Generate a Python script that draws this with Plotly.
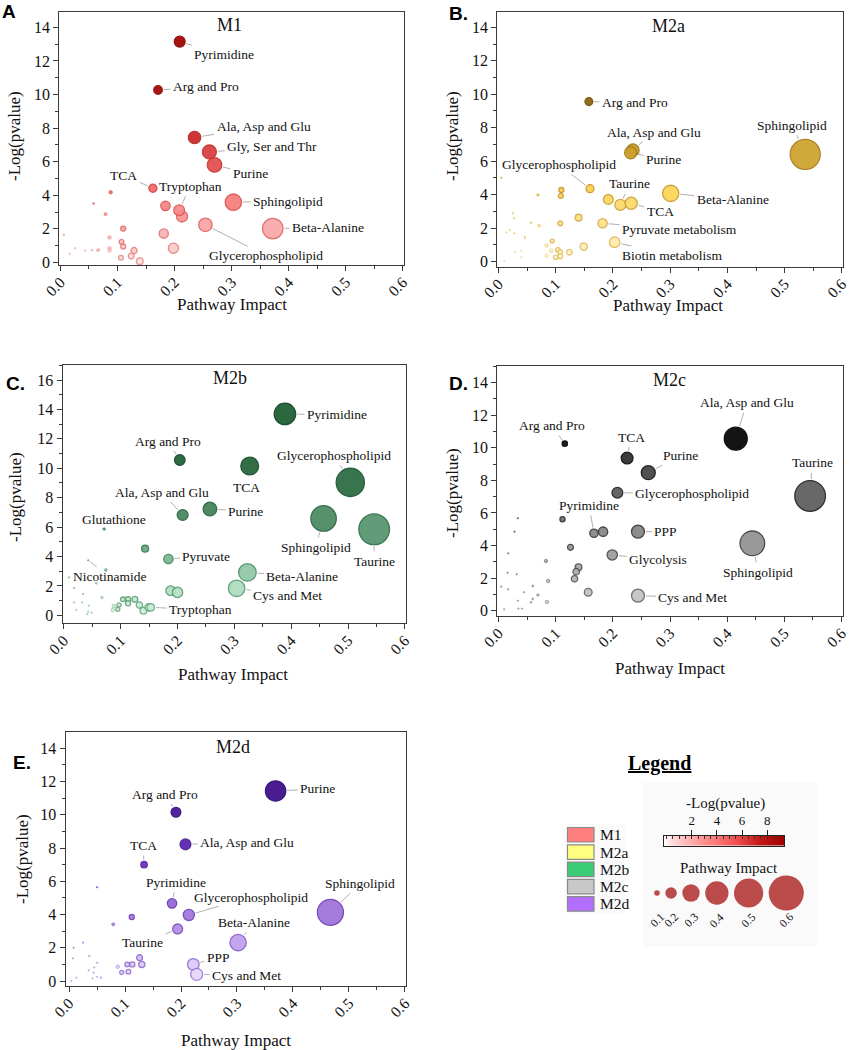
import numpy as np
import plotly.graph_objects as go

W, H = 856, 1050
SERIF = "Liberation Serif"
SANS = "Liberation Sans"
FRAME = "#3a3a3a"
TXT = "#111111"

# ---------------------------- data ----------------------------
# Panel A  (M1)
m1_impact = [0.213, 0.184, 0.181, 0.198, 0.088, 0.058, 0.079, 0.110, 0.086, 0.107, 0.110, 0.086,
             0.086, 0.129, 0.124, 0.106, 0.139, 0.067, 0.065, 0.055, 0.043, 0.026, 0.016, 0.006,
             0.209, 0.171, 0.235, 0.261, 0.270, 0.162, 0.303, 0.372, 0.254, 0.208]
m1_logp = [2.74, 3.37, 1.73, 0.85, 4.18, 3.51, 2.88, 2.02, 1.49, 1.23, 0.95, 0.85,
           0.71, 0.71, 0.38, 0.28, 0.08, 0.75, 0.73, 0.73, 0.71, 0.85, 0.52, 1.65,
           13.15, 10.27, 7.44, 6.58, 5.81, 4.42, 3.59, 2.02, 2.24, 3.11]
m1_names = [""] * 24 + ["Pyrimidine", "Arg and Pro", "Ala, Asp and Glu", "Gly, Ser and Thr", "Purine",
                        "TCA", "Sphingolipid", "Beta-Alanine", "Glycerophospholipid", "Tryptophan"]

# Panel B  (M2a)
m2a_impact = [0.192, 0.140, 0.149, 0.110, 0.109, 0.108, 0.069, 0.071, 0.057, 0.124, 0.094, 0.084,
              0.084, 0.092, 0.104, 0.108, 0.100, 0.108, 0.046, 0.046, 0.040, 0.040, 0.028, 0.025,
              0.027, 0.020, 0.029, 0.014, 0.005, 0.010,
              0.158, 0.235, 0.231, 0.536, 0.160, 0.213, 0.232, 0.301, 0.182, 0.203]
m2a_logp = [3.72, 2.63, 0.90, 4.28, 3.93, 2.29, 3.98, 2.15, 2.33, 0.56, 1.23, 0.96,
            0.36, 0.66, 0.70, 0.56, 0.26, 0.32, 1.49, 1.39, 0.66, 0.26, 1.69, 2.89,
            2.59, 1.89, 0.56, 1.75, 5.02, 0.03,
            9.56, 6.67, 6.51, 6.41, 4.36, 3.39, 3.49, 4.08, 2.29, 1.16]
m2a_names = [""] * 30 + ["Arg and Pro", "Ala, Asp and Glu", "Purine", "Sphingolipid", "Glycerophospholipid",
                         "Taurine", "TCA", "Beta-Alanine", "Pyruvate metabolism", "Biotin metabolism"]

# Panel C  (M2b)
m2b_impact = [0.143, 0.074, 0.188, 0.200, 0.057, 0.067, 0.018, 0.034, 0.032, 0.018, 0.022, 0.044,
              0.043, 0.049, 0.041, 0.009, 0.088, 0.086, 0.095, 0.097, 0.104, 0.113, 0.113, 0.125,
              0.133, 0.140, 0.149,
              0.389, 0.204, 0.327, 0.504, 0.209, 0.257, 0.457, 0.546, 0.071, 0.184, 0.043, 0.323,
              0.304, 0.153]
m2b_logp = [4.53, 3.08, 1.68, 1.56, 2.18, 1.22, 1.86, 1.45, 0.88, 0.88, 0.36, 0.66,
            0.25, 0.18, 0.09, 2.58, 0.63, 0.36, 0.41, 0.70, 1.09, 1.09, 0.82, 1.09,
            0.70, 0.32, 0.54,
            13.69, 10.56, 10.15, 9.04, 6.82, 7.23, 6.59, 5.85, 5.87, 3.83, 3.74, 2.92,
            1.84, 0.54]
m2b_names = [""] * 27 + ["Pyrimidine", "Arg and Pro", "TCA", "Glycerophospholipid", "Ala, Asp and Glu",
                         "Purine", "Sphingolipid", "Taurine", "Glutathione", "Pyruvate", "Nicotinamide",
                         "Beta-Alanine", "Cys and Met", "Tryptophan"]

# Panel D  (M2c)
m2c_impact = [0.112, 0.183, 0.126, 0.140, 0.136, 0.133, 0.157, 0.083, 0.087, 0.060, 0.069, 0.060,
              0.057, 0.085, 0.045, 0.035, 0.041, 0.034, 0.034, 0.028, 0.017, 0.032, 0.016, 0.017,
              0.010, 0.005,
              0.415, 0.116, 0.225, 0.262, 0.208, 0.545, 0.167, 0.244, 0.444, 0.199, 0.244]
m2c_logp = [5.61, 4.85, 3.89, 2.66, 2.39, 1.96, 1.13, 3.05, 1.82, 1.51, 0.96, 0.72,
            0.51, 0.53, 1.13, 0.12, 0.12, 0.61, 5.67, 4.85, 3.52, 2.23, 2.33, 1.31,
            0.08, 1.47,
            10.56, 10.25, 9.37, 8.47, 7.24, 7.04, 4.75, 4.85, 4.13, 3.42, 0.92]
m2c_names = [""] * 26 + ["Ala, Asp and Glu", "Arg and Pro", "TCA", "Purine", "Glycerophospholipid",
                         "Taurine", "Pyrimidine", "PPP", "Sphingolipid", "Glycolysis", "Cys and Met"]

# Panel E  (M2d)
m2d_impact = [0.112, 0.079, 0.050, 0.126, 0.130, 0.113, 0.104, 0.106, 0.094, 0.087, 0.050, 0.036,
              0.045, 0.044, 0.035, 0.050, 0.057, 0.042, 0.025, 0.008, 0.007, 0.013, 0.004,
              0.369, 0.191, 0.208, 0.134, 0.184, 0.214, 0.467, 0.194, 0.302, 0.222, 0.228]
m2d_logp = [3.85, 3.41, 5.64, 1.40, 1.00, 1.00, 1.00, 0.56, 0.52, 0.86, 1.10, 1.50,
            0.82, 0.50, 0.64, 0.26, 0.20, 0.16, 2.31, 2.00, 1.36, 0.20, 0.00,
            11.43, 10.15, 8.22, 7.00, 4.67, 3.97, 4.13, 3.13, 2.31, 1.00, 0.40]
m2d_names = [""] * 23 + ["Purine", "Arg and Pro", "Ala, Asp and Glu", "TCA", "Pyrimidine",
                         "Glycerophospholipid", "Sphingolipid", "Taurine", "Beta-Alanine", "PPP", "Cys and Met"]

groups = ["M1", "M2a", "M2b", "M2c", "M2d"]
group_colors = ["#FF7F7F", "#FFFF80", "#3CCB76", "#C8C8C8", "#B46EFF"]
legend_pvalue_ticks = [2, 4, 6, 8]
legend_impacts = [0.1, 0.2, 0.3, 0.4, 0.5, 0.6]

# ---------------------------- label offsets (pixels) ----------------------------
off_m1 = {"Pyrimidine": (44, 13), "Arg and Pro": (48, -3), "Ala, Asp and Glu": (69, -11),
          "Gly, Ser and Thr": (63, -5), "Purine": (36, 9), "TCA": (-29, -13), "Tryptophan": (11, -24),
          "Sphingolipid": (55, -1), "Beta-Alanine": (55, -1), "Glycerophospholipid": (61, 31)}
off_m2a = {"Arg and Pro": (46, 1), "Ala, Asp and Glu": (21, -18), "Purine": (33, 7),
           "Sphingolipid": (-13, -29), "Glycerophospholipid": (-31, -24), "Taurine": (9, -21),
           "TCA": (29, 8), "Beta-Alanine": (62, 6), "Pyruvate metabolism": (77, 6),
           "Biotin metabolism": (58, 13)}
off_m2b = {"Pyrimidine": (52, 1), "Arg and Pro": (-12, -19), "TCA": (-3, 21), "Glycerophospholipid": (-16, -27),
           "Ala, Asp and Glu": (-21, -23), "Purine": (36, 2), "Sphingolipid": (-8, 29), "Taurine": (0, 32),
           "Glutathione": (10, -10), "Pyruvate": (38, -3), "Nicotinamide": (21, 16), "Beta-Alanine": (55, 4),
           "Cys and Met": (51, 7), "Tryptophan": (50, 2)}
off_m2c = {"Ala, Asp and Glu": (11, -36), "Arg and Pro": (-13, -18), "TCA": (4, -21), "Purine": (32, -17),
           "Glycerophospholipid": (75, 1), "Taurine": (2, -33), "Pyrimidine": (-5, -28), "PPP": (28, 0),
           "Sphingolipid": (6, 29), "Glycolysis": (46, 5), "Cys and Met": (55, 2)}
off_m2d = {"Purine": (42, -2), "Arg and Pro": (-11, -18), "Ala, Asp and Glu": (62, -2), "TCA": (-1, -19),
           "Pyrimidine": (4, -21), "Glycerophospholipid": (62, -18), "Sphingolipid": (30, -29),
           "Taurine": (-35, 14), "Beta-Alanine": (16, -20), "PPP": (25, -7), "Cys and Met": (50, 1)}

# ---------------------------- styles ----------------------------
def fx(p):
    return p / W


def fy(p):
    return 1 - p / H


def bubble_size(imp):
    return np.maximum(59 * np.asarray(imp, dtype=float) - 1.5, 1.5)


def paper_text(xp, yp, text, size, family=SERIF, angle=0, xanchor="center", color=TXT):
    return dict(x=fx(xp), y=fy(yp), xref="paper", yref="paper", text=text, showarrow=False,
                xanchor=xanchor, yanchor="middle", textangle=angle,
                font=dict(family=family, size=size, color=color))


PANELS = [
    dict(title="M1", imp=m1_impact, lp=m1_logp, names=m1_names, off=off_m1, cmax=11,
         cs=[[0, "#FCE2E2"], [0.15, "#FAB4B4"], [0.35, "#F57474"], [0.55, "#E04848"], [0.72, "#C41C1C"],
             [0.88, "#A80404"], [1, "#A00000"]],
         lcs=[[0, "#E89090"], [0.4, "#D84040"], [1, "#8A0000"]],
         frame=(59.3, 404, 11.7, 265), yr=(-0.15, 14.93), xr=(-0.002, 0.602),
         letter_xy=(9, 11), letter_txt="A", title_xy=(229, 25), xt_xy=(232, 304), yt_xy=(15, 136)),
    dict(title="M2a", imp=m2a_impact, lp=m2a_logp, names=m2a_names, off=off_m2a, cmax=10,
         cs=[[0, "#FFF5D6"], [0.12, "#FEEBAA"], [0.25, "#FDE080"], [0.42, "#FCD450"], [0.6, "#D8AA30"],
             [0.8, "#A8801C"], [1, "#7E5A06"]],
         lcs=[[0, "#E6C870"], [0.5, "#C09020"], [1, "#6A4A00"]],
         frame=(497.3, 843, 11.7, 266.7), yr=(-0.3, 14.93), xr=(-0.002, 0.602),
         letter_xy=(458, 13), letter_txt="B.", title_xy=(668, 26), xt_xy=(668, 305), yt_xy=(453, 136)),
    dict(title="M2b", imp=m2b_impact, lp=m2b_logp, names=m2b_names, off=off_m2b, cmax=11,
         cs=[[0, "#D6F3DE"], [0.12, "#BCE6CA"], [0.28, "#8CC4A2"], [0.42, "#6AA582"], [0.6, "#488860"],
             [0.8, "#2A6C42"], [1, "#1A5C30"]],
         lcs=[[0, "#6FB088"], [0.5, "#2E7048"], [1, "#0E4020"]],
         frame=(62.7, 406, 365, 623.3), yr=(-0.54, 17.02), xr=(-0.002, 0.602),
         letter_xy=(16, 384), letter_txt="C.", title_xy=(230, 378), xt_xy=(233, 674), yt_xy=(15, 497)),
    dict(title="M2c", imp=m2c_impact, lp=m2c_logp, names=m2c_names, off=off_m2c, cmax=10.6,
         cs=[[0, "#D2D2D2"], [0.15, "#B8B8B8"], [0.35, "#999999"], [0.5, "#7C7C7C"], [0.7, "#555555"],
             [0.85, "#383838"], [0.97, "#0A0A0A"], [1, "#000000"]],
         lcs=[[0, "#707070"], [0.5, "#303030"], [1, "#000000"]],
         frame=(497.3, 842.7, 366, 616), yr=(-0.33, 15.02), xr=(-0.002, 0.602),
         letter_xy=(458, 383), letter_txt="D.", title_xy=(669, 380), xt_xy=(670, 668), yt_xy=(453, 493)),
    dict(title="M2d", imp=m2d_impact, lp=m2d_logp, names=m2d_names, off=off_m2d, cmax=11.4,
         cs=[[0, "#ECDFFC"], [0.09, "#DCC8F8"], [0.2, "#C0A0EE"], [0.36, "#9E72DA"], [0.6, "#6A30C0"],
             [0.8, "#4C16A2"], [1, "#3A0A88"]],
         lcs=[[0, "#A080D8"], [0.5, "#5A28A8"], [1, "#2A0670"]],
         frame=(65.7, 406, 732.3, 986), yr=(-0.3, 14.96), xr=(-0.006, 0.602),
         letter_xy=(22, 762), letter_txt="E.", title_xy=(233, 747), xt_xy=(236, 1040), yt_xy=(22, 859)),
]

fig = go.Figure()
annotations = []
shapes = []
layout_axes = {}

for i, p in enumerate(PANELS, start=1):
    sfx = "" if i == 1 else str(i)
    xref, yref = "x" + sfx, "y" + sfx
    x0, x1, ytop_px, ybot_px = p["frame"]
    sizes = bubble_size(p["imp"])
    lw = np.where(sizes >= 4, 1.3, 0.5)
    fig.add_trace(go.Scatter(
        x=p["imp"], y=p["lp"], mode="markers", xaxis=xref, yaxis=yref, showlegend=False,
        text=p["names"], hoverinfo="text+x+y",
        marker=dict(size=sizes, sizemode="diameter", color=p["lp"], colorscale=p["cs"], cmin=0,
                    cmax=p["cmax"], opacity=0.92,
                    line=dict(width=lw, color=p["lp"], colorscale=p["lcs"], cmin=0, cmax=p["cmax"]))))

    layout_axes["xaxis" + sfx] = dict(
        domain=[fx(x0), fx(x1)], range=list(p["xr"]), anchor=yref, automargin=False, showline=True,
        linecolor=FRAME, linewidth=1.3, mirror=True, ticks="outside", ticklen=5, tickwidth=1,
        tickcolor=FRAME, tick0=0, dtick=0.1, tickformat=".1f", tickangle=-45, ticklabelstandoff=-4,
        tickfont=dict(family=SERIF, size=15.5, color=TXT),
        minor=dict(ticks="outside", ticklen=3, tick0=0, dtick=0.05, tickcolor=FRAME, showgrid=False),
        showgrid=False, zeroline=False)
    layout_axes["yaxis" + sfx] = dict(
        domain=[fy(ybot_px), fy(ytop_px)], range=list(p["yr"]), anchor=xref, automargin=False,
        showline=True, linecolor=FRAME, linewidth=1.3, mirror=True, ticks="outside", ticklen=5,
        tickwidth=1, tickcolor=FRAME, tick0=0, dtick=2, tickfont=dict(family=SERIF, size=16, color=TXT),
        minor=dict(ticks="outside", ticklen=3, tick0=0, dtick=1, tickcolor=FRAME, showgrid=False),
        showgrid=False, zeroline=False)

    # axis titles
    annotations.append(paper_text(*p["xt_xy"], "Pathway Impact", 17))
    annotations.append(paper_text(*p["yt_xy"], "-Log(pvalue)", 17, angle=-90))

    # pathway labels
    for xv, yv, nm, sz in zip(p["imp"], p["lp"], p["names"], sizes):
        if not nm:
            continue
        ax, ay = p["off"][nm]
        annotations.append(dict(
            x=xv, y=yv, xref=xref, yref=yref, text=nm, showarrow=True, arrowhead=0, arrowwidth=0.8,
            arrowcolor="#9c9c9c", ax=ax, ay=ay, standoff=sz / 2 + 1.5, startstandoff=1,
            xanchor="center", yanchor="middle",
            font=dict(family=SERIF, size=13.5, color=TXT)))

    # panel title and letter
    annotations.append(paper_text(*p["title_xy"], p["title"], 18))
    annotations.append(paper_text(*p["letter_xy"], "<b>" + p["letter_txt"] + "</b>", 19, family=SANS,
                                  color="#000000"))

# ---------------------------- legend block ----------------------------
annotations.append(paper_text(659, 763, "<b><u>Legend</u></b>", 20, color="#000000"))

# faint backgrounds
shapes.append(dict(type="rect", xref="paper", yref="paper", x0=fx(643), x1=fx(817), y0=fy(947), y1=fy(782),
                   fillcolor="#FAFAFA", line=dict(width=0), layer="below"))
shapes.append(dict(type="rect", xref="paper", yref="paper", x0=fx(565), x1=fx(625), y0=fy(914), y1=fy(824),
                   fillcolor="#FAFAFA", line=dict(width=0), layer="below"))

# group colour keys
row0, pitch, hgt = 827.5, 17.3, 14.5
for k, (g, c) in enumerate(zip(groups, group_colors)):
    top = row0 + k * pitch
    shapes.append(dict(type="rect", xref="paper", yref="paper", x0=fx(567.5), x1=fx(594), y0=fy(top + hgt),
                       y1=fy(top), fillcolor=c, line=dict(color="#8a8a8a", width=1.2)))
    annotations.append(paper_text(597.5, top + hgt / 2, g, 15.5, xanchor="left"))

# -Log(pvalue) colour bar
legend_cs = [[0, "#FFFFFF"], [0.08, "#FFD6D6"], [0.35, "#FF8C8C"], [0.6, "#F05050"], [0.8, "#C41818"],
             [1, "#A00000"]]
cb_lo, cb_hi = -0.2, 9.33
cb_vals = np.linspace(cb_lo, cb_hi, 160)
fig.add_trace(go.Heatmap(z=[cb_vals], x=cb_vals, y=[0], colorscale=legend_cs, zmin=cb_lo, zmax=cb_hi,
                         showscale=False, xaxis="x6", yaxis="y6", hoverinfo="skip"))
layout_axes["xaxis6"] = dict(domain=[fx(664), fx(784)], range=[cb_lo, cb_hi], anchor="y6", side="top",
                             automargin=False, showline=True, mirror=True, linecolor="#222", linewidth=1,
                             tickvals=legend_pvalue_ticks, ticks="outside", ticklen=5, tickcolor="#222",
                             tickfont=dict(family=SERIF, size=13, color=TXT),
                             minor=dict(ticks="inside", ticklen=3, tick0=0, dtick=0.5, tickcolor="#333"),
                             showgrid=False, zeroline=False, fixedrange=True)
layout_axes["yaxis6"] = dict(domain=[fy(845.5), fy(836)], range=[-0.5, 0.5], anchor="x6", showline=True,
                             automargin=False, mirror=True, linecolor="#222", linewidth=1,
                             showticklabels=False, ticks="", showgrid=False, zeroline=False, fixedrange=True)
annotations.append(paper_text(725, 803, "-Log(pvalue)", 15))

# Pathway impact size key
annotations.append(paper_text(729, 868, "Pathway Impact", 15))
key_sizes = bubble_size(legend_impacts) + 1.2
centers = [657.0]
for a, b in zip(key_sizes[:-1], key_sizes[1:]):
    centers.append(centers[-1] + a / 2 + b / 2 + 5.5)
fig.add_trace(go.Scatter(x=centers, y=[0] * len(centers), mode="markers", xaxis="x7", yaxis="y7",
                         showlegend=False, hoverinfo="skip",
                         marker=dict(size=key_sizes, sizemode="diameter", color="#A00000",
                                     line=dict(width=0))))
layout_axes["xaxis7"] = dict(domain=[fx(630), fx(820)], range=[630, 820], anchor="y7", visible=False,
                             automargin=False, fixedrange=True)
layout_axes["yaxis7"] = dict(domain=[fy(912), fy(874)], range=[-1, 1], anchor="x7", visible=False,
                             automargin=False, fixedrange=True)
for c, v in zip(centers, legend_impacts):
    annotations.append(dict(x=c, y=fy(920), xref="x7", yref="paper", text=f"{v:.1f}", showarrow=False,
                            xanchor="center", yanchor="middle", textangle=-45,
                            font=dict(family=SERIF, size=11.5, color=TXT)))

fig.update_layout(width=W, height=H, margin=dict(l=0, r=0, t=0, b=0, autoexpand=False),
                  paper_bgcolor="white", plot_bgcolor="white", showlegend=False,
                  font=dict(family=SERIF, color=TXT), annotations=annotations, shapes=shapes,
                  **layout_axes)

fig.write_html("out.html", config={"displayModeBar": False},
               post_script="document.body.style.margin='0px';")
